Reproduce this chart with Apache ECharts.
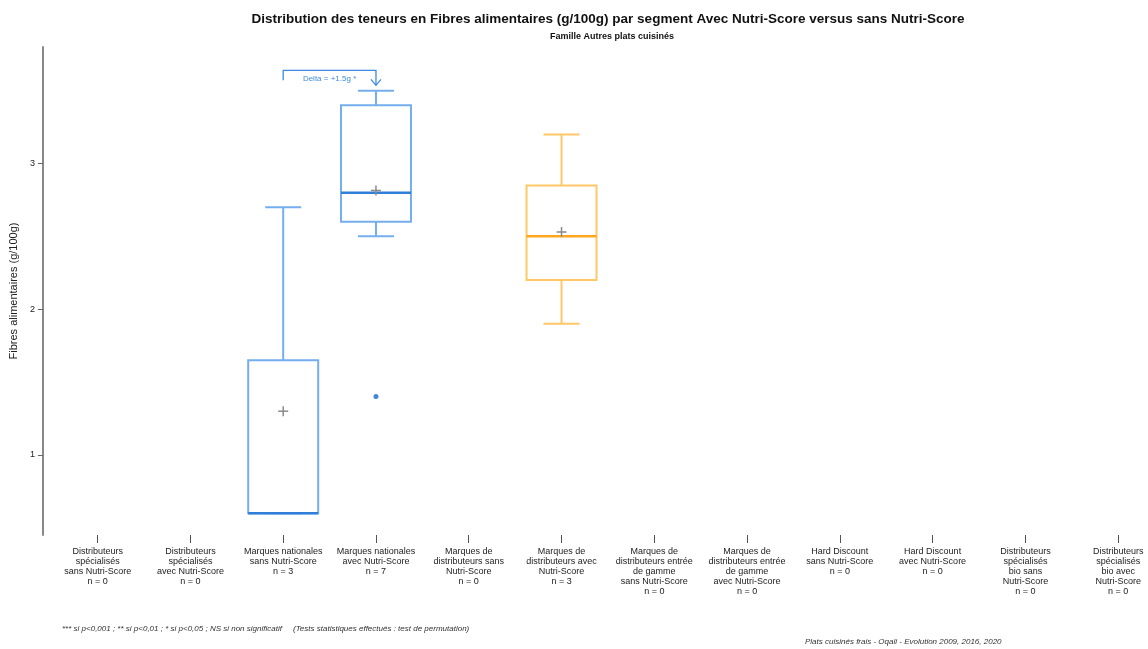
<!DOCTYPE html>
<html>
<head>
<meta charset="utf-8">
<script src="https://cdn.jsdelivr.net/npm/echarts@6/dist/echarts.min.js"></script>
<style>
html,body{margin:0;padding:0;background:#fff;}
#chart{width:1148px;height:649px;}
</style>
</head>
<body>
<div id="chart"></div>
<script>
// ---- Data ----
const categories = [
  'Distributeurs\nspécialisés\nsans Nutri-Score\nn = 0',
  'Distributeurs\nspécialisés\navec Nutri-Score\nn = 0',
  'Marques nationales\nsans Nutri-Score\nn = 3',
  'Marques nationales\navec Nutri-Score\nn = 7',
  'Marques de\ndistributeurs sans\nNutri-Score\nn = 0',
  'Marques de\ndistributeurs avec\nNutri-Score\nn = 3',
  'Marques de\ndistributeurs entrée\nde gamme\nsans Nutri-Score\nn = 0',
  'Marques de\ndistributeurs entrée\nde gamme\navec Nutri-Score\nn = 0',
  'Hard Discount\nsans Nutri-Score\nn = 0',
  'Hard Discount\navec Nutri-Score\nn = 0',
  'Distributeurs\nspécialisés\nbio sans\nNutri-Score\nn = 0',
  'Distributeurs\nspécialisés\nbio avec\nNutri-Score\nn = 0'
];
// [category index, min, Q1, median, Q3, max]
const boxStats = [
  [2, 0.6, 0.6, 0.6, 1.65, 2.7],
  [3, 2.5, 2.6, 2.8, 3.4, 3.5],
  [5, 1.9, 2.2, 2.5, 2.85, 3.2]
];
// [category index, mean]
const means = [
  [2, 1.30],
  [3, 2.815],
  [5, 2.53]
];
// [category index, value]
const outliers = [
  [3, 1.4]
];
// [from index, to index, y level]
const deltaAnnot = [[2, 3, 3.64]];
const deltaText = 'Delta = +1.5g *';
const yTicks = [1, 2, 3];
const xTicks = categories.map((c, i) => i);

// ---- Styles ----
const BLUE_LIGHT = '#74aeee';
const BLUE_DARK = '#2f7fd9';
const ORANGE_LIGHT = '#ffc766';
const ORANGE_DARK = '#ffa71f';
const FONT = '"Liberation Sans", Arial, sans-serif';
function colorsFor(i) {
  return categories[i].startsWith('Marques nationales')
    ? [BLUE_LIGHT, BLUE_DARK] : [ORANGE_LIGHT, ORANGE_DARK];
}

const chart = echarts.init(document.getElementById('chart'), null, {renderer: 'canvas'});

const option = {
  backgroundColor: '#fff',
  animation: false,
  title: [
    {
      text: 'Distribution des teneurs en Fibres alimentaires (g/100g) par segment Avec Nutri-Score versus sans Nutri-Score',
      left: 603, top: 7, textAlign: 'center',
      textStyle: {fontFamily: FONT, fontSize: 13.5, fontWeight: 'bold', color: '#111'}
    },
    {
      text: 'Famille Autres plats cuisinés',
      left: 607, top: 27, textAlign: 'center',
      textStyle: {fontFamily: FONT, fontSize: 9, fontWeight: 'bold', color: '#111'}
    },
    {
      text: '*** si p<0,001 ; ** si p<0,01 ; * si p<0,05 ; NS si non significatif     (Tests statistiques effectués : test de permutation)',
      left: 57, top: 620,
      textStyle: {fontFamily: FONT, fontSize: 8, fontStyle: 'italic', fontWeight: 'normal', color: '#333'}
    },
    {
      text: 'Plats cuisinés frais - Oqali - Evolution 2009, 2016, 2020',
      left: 800, top: 633,
      textStyle: {fontFamily: FONT, fontSize: 8, fontStyle: 'italic', fontWeight: 'normal', color: '#333'}
    }
  ],
  grid: {left: 40, top: 47, width: 1106, height: 488, containLabel: false},
  xAxis: {
    type: 'value',
    min: -0.59, max: 11.3,
    axisLine: {show: false, onZero: false},
    axisTick: {show: true, customValues: xTicks, length: 8, lineStyle: {color: '#555', width: 1}},
    splitLine: {show: false},
    axisLabel: {
      customValues: xTicks,
      formatter: v => categories[Math.round(v)] || '',
      fontFamily: FONT, fontSize: 9, lineHeight: 10, color: '#222', margin: 12,
      showMinLabel: true, showMaxLabel: true
    }
  },
  yAxis: {
    type: 'value',
    min: 0.45, max: 3.8,
    name: 'Fibres alimentaires (g/100g)',
    nameLocation: 'middle', nameGap: 17, nameRotate: 90,
    nameTextStyle: {fontFamily: FONT, fontSize: 11, color: '#222'},
    axisLine: {show: true, onZero: false, lineStyle: {color: '#888', width: 2}},
    axisTick: {show: true, customValues: yTicks, length: 5, lineStyle: {color: '#666', width: 1}},
    splitLine: {show: false},
    axisLabel: {customValues: yTicks, fontFamily: FONT, fontSize: 9, color: '#222', margin: 8}
  },
  series: [
    {
      type: 'custom',
      name: 'box',
      clip: false,
      data: boxStats,
      renderItem: function (params, api) {
        const i = api.value(0);
        const mn = api.value(1), q1 = api.value(2), med = api.value(3), q3 = api.value(4), mx = api.value(5);
        const [light, dark] = colorsFor(i);
        const cx = api.coord([i, med])[0];
        const y = v => api.coord([i, v])[1];
        const hw = 35, cw = 18;
        const ls = {stroke: light, lineWidth: 2};
        const children = [
          {type: 'rect', shape: {x: cx - hw, y: y(q3), width: 2 * hw, height: y(q1) - y(q3)},
           style: {fill: 'none', stroke: light, lineWidth: 2}},
          {type: 'line', shape: {x1: cx, y1: y(q3), x2: cx, y2: y(mx)}, style: ls},
          {type: 'line', shape: {x1: cx - cw, y1: y(mx), x2: cx + cw, y2: y(mx)}, style: ls},
          {type: 'line', shape: {x1: cx, y1: y(q1), x2: cx, y2: y(mn)}, style: ls},
          {type: 'line', shape: {x1: cx - cw, y1: y(mn), x2: cx + cw, y2: y(mn)}, style: ls},
          {type: 'line', shape: {x1: cx - hw, y1: y(med), x2: cx + hw, y2: y(med)}, style: {stroke: dark, lineWidth: 2.5}}
        ];
        return {type: 'group', children: children};
      }
    },
    {
      type: 'custom',
      name: 'mean',
      clip: false,
      data: means,
      renderItem: function (params, api) {
        const p = api.coord([api.value(0), api.value(1)]);
        const s = 5;
        const st = {stroke: '#8a8a8a', lineWidth: 1.5};
        return {type: 'group', children: [
          {type: 'line', shape: {x1: p[0] - s, y1: p[1], x2: p[0] + s, y2: p[1]}, style: st},
          {type: 'line', shape: {x1: p[0], y1: p[1] - s, x2: p[0], y2: p[1] + s}, style: st}
        ]};
      }
    },
    {
      type: 'scatter',
      name: 'outlier',
      data: outliers,
      symbol: 'circle',
      symbolSize: 5,
      itemStyle: {color: '#1666d0'}
    },
    {
      type: 'custom',
      name: 'delta',
      clip: false,
      data: deltaAnnot,
      renderItem: function (params, api) {
        const a = api.coord([api.value(0), api.value(2)]);
        const b = api.coord([api.value(1), api.value(2)]);
        const col = '#3d8ce0';
        const st = {stroke: col, lineWidth: 1.3, fill: 'none'};
        return {type: 'group', children: [
          {type: 'polyline', shape: {points: [[a[0], a[1] + 10], [a[0], a[1]], [b[0], b[1]], [b[0], b[1] + 15]]}, style: st},
          {type: 'polyline', shape: {points: [[b[0] - 5, b[1] + 9], [b[0], b[1] + 15], [b[0] + 5, b[1] + 9]]}, style: st},
          {type: 'text', x: (a[0] + b[0]) / 2, y: a[1] + 8,
           style: {text: deltaText, fill: col, font: '8px ' + FONT, align: 'center', verticalAlign: 'middle'}}
        ]};
      }
    }
  ]
};
chart.setOption(option);
</script>
</body>
</html>
